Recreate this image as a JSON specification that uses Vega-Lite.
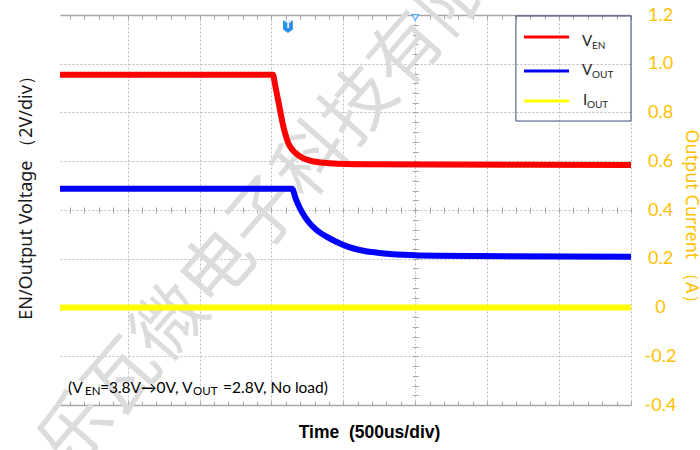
{
  "$schema": "https://vega.github.io/schema/vega-lite/v6.json",
  "width": 571,
  "height": 390,
  "autosize": {"type": "none"},
  "padding": {"left": 60, "top": 15, "right": 69, "bottom": 45},
  "background": "white",
  "config": {"view": {"stroke": null}},
  "resolve": {"axis": {"x": "independent", "y": "independent"}},
  "layer": [
    {
      "data": {"values": [{"text": "乐瓦微电子科技有限", "t": 1462, "v": 0.379}]},
      "mark": {"type": "text", "font": "Noto Sans CJK SC", "fontSize": 72, "fontWeight": "normal", "angle": -49, "color": "#dcdcdc", "align": "center", "baseline": "middle"},
      "encoding": {
        "x": {"field": "t", "type": "quantitative", "scale": {"domain": [30, 4000], "nice": false, "zero": false},
          "axis": {"orient": "bottom", "values": [500, 1000, 1500, 2000, 2500, 3000, 3500, 4000], "grid": true, "gridColor": "#bdbdbd", "gridDash": [2, 2], "gridWidth": 1, "domain": false, "ticks": false, "labels": false, "title": null}},
        "y": {"field": "v", "type": "quantitative", "scale": {"domain": [-0.4, 1.2], "nice": false, "zero": false},
          "axis": {"orient": "left", "values": [-0.2, 0, 0.2, 0.4, 0.6, 0.8, 1.0], "grid": true, "gridColor": "#bdbdbd", "gridDash": [2, 2], "gridWidth": 1, "domain": false, "ticks": false, "labels": false,
            "title": "EN/Output Voltage  （2V/div）", "titleFont": "Noto Sans", "titleFontSize": 18, "titleFontWeight": "normal", "titleColor": "#1a1a1a", "titleAngle": -90, "titleBaseline": "middle", "titleAlign": "center", "titleX": -34, "titleY": 178}},
        "text": {"field": "text"}
      }
    },
    {
      "data": {"values": [
        {"s": "VEN", "t": 30, "v": 0.955}, {"s": "VEN", "t": 1511, "v": 0.955}, {"s": "VEN", "t": 1525, "v": 0.915}, {"s": "VEN", "t": 1537, "v": 0.879}, {"s": "VEN", "t": 1560, "v": 0.81}, {"s": "VEN", "t": 1583, "v": 0.742}, {"s": "VEN", "t": 1600, "v": 0.705}, {"s": "VEN", "t": 1617, "v": 0.674}, {"s": "VEN", "t": 1645, "v": 0.648}, {"s": "VEN", "t": 1676, "v": 0.63}, {"s": "VEN", "t": 1720, "v": 0.613}, {"s": "VEN", "t": 1768, "v": 0.603}, {"s": "VEN", "t": 1830, "v": 0.596}, {"s": "VEN", "t": 1907, "v": 0.592}, {"s": "VEN", "t": 2137, "v": 0.588}, {"s": "VEN", "t": 4000, "v": 0.585},
        {"s": "VOUT", "t": 30, "v": 0.487}, {"s": "VOUT", "t": 1643, "v": 0.487}, {"s": "VOUT", "t": 1670, "v": 0.445}, {"s": "VOUT", "t": 1700, "v": 0.405}, {"s": "VOUT", "t": 1735, "v": 0.37}, {"s": "VOUT", "t": 1770, "v": 0.343}, {"s": "VOUT", "t": 1820, "v": 0.315}, {"s": "VOUT", "t": 1880, "v": 0.292}, {"s": "VOUT", "t": 1950, "v": 0.27}, {"s": "VOUT", "t": 2030, "v": 0.25}, {"s": "VOUT", "t": 2120, "v": 0.235}, {"s": "VOUT", "t": 2250, "v": 0.224}, {"s": "VOUT", "t": 2420, "v": 0.216}, {"s": "VOUT", "t": 2650, "v": 0.212}, {"s": "VOUT", "t": 4000, "v": 0.208},
        {"s": "IOUT", "t": 30, "v": 0.0}, {"s": "IOUT", "t": 4000, "v": 0.0}
      ]},
      "mark": {"type": "line", "strokeWidth": 6, "interpolate": "monotone", "strokeCap": "butt"},
      "encoding": {
        "x": {"field": "t", "type": "quantitative", "scale": {"domain": [30, 4000], "nice": false, "zero": false},
          "axis": {"orient": "bottom", "values": [100,200,300,400,500,600,700,800,900,1000,1100,1200,1300,1400,1500,1600,1700,1800,1900,2000,2100,2200,2300,2400,2500,2600,2700,2800,2900,3000,3100,3200,3300,3400,3500,3600,3700,3800,3900,4000],
            "tickSize": -4, "tickColor": "#a6a6a6", "tickWidth": 1, "domain": true, "domainColor": "#a6a6a6", "domainWidth": 1.5, "labels": false, "grid": false,
            "title": "Time\u00a0\u00a0(500us/div)", "titleFont": "Liberation Sans", "titleFontSize": 17.5, "titleFontWeight": "bold", "titleColor": "#000000", "titleAlign": "center", "titleBaseline": "middle", "titleX": 309, "titleY": 27}},
        "y": {"field": "v", "type": "quantitative", "scale": {"domain": [-0.4, 1.2], "nice": false, "zero": false},
          "axis": {"orient": "right", "values": [-0.4, -0.2, 0, 0.2, 0.4, 0.6, 0.8, 1.0, 1.2], "ticks": false, "domain": false, "grid": false,
            "labelAlign": "center", "labelPadding": 29, "labelFont": "Lato", "labelFontSize": 18, "labelColor": "#FFC000",
            "labelExpr": "datum.value == 0 ? '0' : replace(format(datum.value, '.1f'), '−', '-')",
            "title": "Output Current （A）", "titleFont": "Noto Sans", "titleFontSize": 18, "titleFontWeight": "normal", "titleColor": "#FFC000", "titleAngle": 90, "titleBaseline": "middle", "titleAlign": "center", "titleX": 59, "titleY": 205}},
        "color": {"field": "s", "type": "nominal", "scale": {"domain": ["VEN", "VOUT", "IOUT"], "range": ["#ff0000", "#0000ff", "#ffff00"]}, "legend": null}
      }
    },
    {
      "data": {"values": [{"t1": 3200, "t2": 4000, "v1": 0.765, "v2": 1.196}]},
      "mark": {"type": "rect", "fillOpacity": 0, "fill": "white", "stroke": "#3b4f7c", "strokeWidth": 1},
      "encoding": {
        "x": {"field": "t1", "type": "quantitative", "scale": {"domain": [30, 4000], "nice": false, "zero": false},
          "axis": {"orient": "top", "values": [100,200,300,400,500,600,700,800,900,1000,1100,1200,1300,1400,1500,1600,1700,1800,1900,2000,2100,2200,2300,2400,2500,2600,2700,2800,2900,3000,3100,3200,3300,3400,3500,3600,3700,3800,3900,4000],
            "tickSize": -4, "tickColor": "#a6a6a6", "tickWidth": 1, "domain": true, "domainColor": "#a6a6a6", "domainWidth": 1.5, "labels": false, "grid": false, "title": null}},
        "x2": {"field": "t2"},
        "y": {"field": "v1", "type": "quantitative", "scale": {"domain": [-0.4, 1.2], "nice": false, "zero": false},
          "axis": {"orient": "left", "offset": -358.3, "values": [-0.4,-0.36,-0.32,-0.28,-0.24,-0.2,-0.16,-0.12,-0.08,-0.04,0,0.04,0.08,0.12,0.16,0.2,0.24,0.28,0.32,0.36,0.4,0.44,0.48,0.52,0.56,0.6,0.64,0.68,0.72,0.76,0.8,0.84,0.88,0.92,0.96,1,1.04,1.08,1.12,1.16,1.2],
            "tickSize": 6, "tickColor": "#a6a6a6", "tickWidth": 1, "domain": false, "labels": false, "grid": false, "title": null}},
        "y2": {"field": "v2"}
      }
    },
    {
      "data": {"values": [
        {"s": "VEN", "t1": 3256, "t2": 3569, "v": 1.11},
        {"s": "VOUT", "t1": 3256, "t2": 3569, "v": 0.97},
        {"s": "IOUT", "t1": 3256, "t2": 3569, "v": 0.847}
      ]},
      "mark": {"type": "rule", "strokeWidth": 3},
      "encoding": {
        "x": {"field": "t1", "type": "quantitative", "scale": {"domain": [30, 4000], "nice": false, "zero": false},
          "axis": {"orient": "bottom", "offset": -198, "values": [100,200,300,400,500,600,700,800,900,1000,1100,1200,1300,1400,1500,1600,1700,1800,1900,2000,2100,2200,2300,2400,2500,2600,2700,2800,2900,3000,3100,3200,3300,3400,3500,3600,3700,3800,3900,4000],
            "tickSize": 6, "tickColor": "#a6a6a6", "tickWidth": 1, "domain": false, "labels": false, "grid": false, "title": null}},
        "x2": {"field": "t2"},
        "y": {"field": "v", "type": "quantitative", "scale": {"domain": [-0.4, 1.2], "nice": false, "zero": false}, "axis": null},
        "color": {"field": "s", "type": "nominal", "scale": {"domain": ["VEN", "VOUT", "IOUT"], "range": ["#ff0000", "#0000ff", "#ffff00"]}, "legend": null}
      }
    },
    {
      "data": {"values": [
        {"text": "V", "t": 3659, "v": 1.073},
        {"text": "V", "t": 3659, "v": 0.954},
        {"text": "I", "t": 3666, "v": 0.831}
      ]},
      "mark": {"type": "text", "font": "Lato", "fontSize": 15, "color": "#262626", "align": "left", "baseline": "alphabetic"},
      "encoding": {
        "x": {"field": "t", "type": "quantitative", "axis": null},
        "y": {"field": "v", "type": "quantitative", "axis": null},
        "text": {"field": "text"}
      }
    },
    {
      "data": {"values": [
        {"text": "EN", "t": 3729, "v": 1.061},
        {"text": "OUT", "t": 3729, "v": 0.942},
        {"text": "OUT", "t": 3694, "v": 0.818}
      ]},
      "mark": {"type": "text", "font": "Lato", "fontSize": 10, "color": "#262626", "align": "left", "baseline": "alphabetic"},
      "encoding": {
        "x": {"field": "t", "type": "quantitative", "axis": null},
        "y": {"field": "v", "type": "quantitative", "axis": null},
        "text": {"field": "text"}
      }
    },
    {
      "data": {"values": [
        {"text": "(V", "t": 86, "v": -0.351},
        {"text": "=3.8V→0V,", "t": 308, "v": -0.351},
        {"text": "V", "t": 878, "v": -0.351},
        {"text": "=2.8V, No load)", "t": 1164, "v": -0.351}
      ]},
      "mark": {"type": "text", "font": "Lato", "fontSize": 15.5, "color": "#000000", "align": "left", "baseline": "alphabetic"},
      "encoding": {
        "x": {"field": "t", "type": "quantitative", "axis": null},
        "y": {"field": "v", "type": "quantitative", "axis": null},
        "text": {"field": "text"}
      }
    },
    {
      "data": {"values": [
        {"text": "EN", "t": 204, "v": -0.359},
        {"text": "OUT", "t": 955, "v": -0.359}
      ]},
      "mark": {"type": "text", "font": "Lato", "fontSize": 11.5, "color": "#000000", "align": "left", "baseline": "alphabetic"},
      "encoding": {
        "x": {"field": "t", "type": "quantitative", "axis": null},
        "y": {"field": "v", "type": "quantitative", "axis": null},
        "text": {"field": "text"}
      }
    },
    {
      "data": {"values": [{"marker": "trigger", "t": 1615, "v": 1.151}]},
      "mark": {"type": "point", "shape": "M-0.8,-1L0.8,-1L0.8,0.4L0,1L-0.8,0.4Z", "size": 150, "filled": true, "color": "#2b8ce6", "opacity": 1, "clip": false},
      "encoding": {
        "x": {"field": "t", "type": "quantitative", "axis": null},
        "y": {"field": "v", "type": "quantitative", "axis": null}
      }
    },
    {
      "data": {"values": [{"marker": "trigger", "label": "T", "t": 1615, "v": 1.151}]},
      "mark": {"type": "text", "font": "DejaVu Sans", "fontSize": 8, "fontWeight": "bold", "color": "white", "align": "center", "baseline": "middle", "dy": -1},
      "encoding": {
        "x": {"field": "t", "type": "quantitative", "axis": null},
        "y": {"field": "v", "type": "quantitative", "axis": null},
        "text": {"field": "label"}
      }
    },
    {
      "data": {"values": [{"marker": "center", "t": 2500, "v": 1.19}]},
      "mark": {"type": "point", "shape": "triangle-down", "size": 40, "filled": true, "fill": "white", "stroke": "#4da3ff", "strokeWidth": 1.2, "opacity": 1, "clip": false},
      "encoding": {
        "x": {"field": "t", "type": "quantitative", "axis": null},
        "y": {"field": "v", "type": "quantitative", "axis": null}
      }
    }
  ]
}
